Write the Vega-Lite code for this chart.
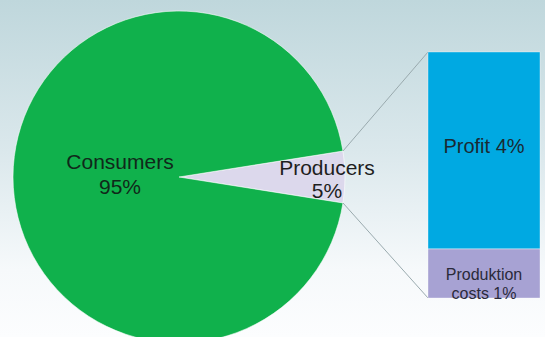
{
  "$schema": "https://vega.github.io/schema/vega-lite/v6.json",
  "width": 545,
  "height": 337,
  "padding": 0,
  "autosize": "none",
  "background": "#ffffff",
  "view": {
    "stroke": null,
    "fill": {
      "gradient": "linear",
      "x1": 0, "y1": 0, "x2": 0, "y2": 1,
      "stops": [
        {"offset": 0, "color": "#bfd7dc"},
        {"offset": 0.45, "color": "#dbe8ec"},
        {"offset": 0.8, "color": "#f6f9fb"},
        {"offset": 1, "color": "#fcfdfe"}
      ]
    }
  },
  "datasets": {
    "pie": [
      {"name": "Producers", "pct": 5, "ord": 1},
      {"name": "Consumers", "pct": 95, "ord": 2}
    ],
    "bar": [
      {"name": "Produktion costs", "pct": 1, "ord": 1},
      {"name": "Profit", "pct": 4, "ord": 2}
    ]
  },
  "layer": [
    {
      "data": {"name": "pie"},
      "transform": [
        {"stack": "pct", "groupby": [], "sort": [{"field": "ord"}], "as": ["t0", "t1"]},
        {"calculate": "(datum.t0 + datum.t1) / 2", "as": "tmid"},
        {"calculate": "[datum.name, datum.pct + '%']", "as": "label"}
      ],
      "layer": [
        {
          "mark": {"type": "arc", "radius": 166, "stroke": "#ffffff", "strokeWidth": 0.8, "strokeOpacity": 0.7},
          "encoding": {
            "x": {"datum": 179, "type": "quantitative", "scale": {"domain": [0, 545], "nice": false, "zero": false}, "axis": null},
            "y": {"datum": 2.4593, "type": "quantitative", "scale": {"domain": [-0.7927, 6.0569], "nice": false, "zero": false}, "axis": null},
            "theta": {"field": "t0", "type": "quantitative", "scale": {"domain": [0, 100], "range": [1.41372, 7.6969]}},
            "theta2": {"field": "t1"},
            "color": {
              "field": "name", "type": "nominal",
              "scale": {"domain": ["Consumers", "Producers", "Profit", "Produktion costs"], "range": ["#10b14c", "#dcd8ec", "#00a9e2", "#a7a2d3"]},
              "legend": null
            }
          }
        },
        {
          "transform": [{"filter": "datum.name == 'Consumers'"}],
          "mark": {"type": "text", "radius": 59, "font": "Liberation Sans", "fontSize": 21, "lineHeight": 25, "align": "center", "baseline": "middle", "color": "#10281a", "dy": -14},
          "encoding": {
            "x": {"datum": 179, "type": "quantitative", "scale": {"domain": [0, 545], "nice": false, "zero": false}, "axis": null},
            "y": {"datum": 2.4593, "type": "quantitative", "scale": {"domain": [-0.7927, 6.0569], "nice": false, "zero": false}, "axis": null},
            "theta": {"field": "tmid", "type": "quantitative", "scale": {"domain": [0, 100], "range": [1.41372, 7.6969]}},
            "text": {"field": "label"}
          }
        },
        {
          "transform": [{"filter": "datum.name == 'Producers'"}],
          "mark": {"type": "text", "radius": 148, "font": "Liberation Sans", "fontSize": 21, "lineHeight": 23, "align": "center", "baseline": "middle", "color": "#1e1e1e", "dy": -8},
          "encoding": {
            "x": {"datum": 179, "type": "quantitative", "scale": {"domain": [0, 545], "nice": false, "zero": false}, "axis": null},
            "y": {"datum": 2.4593, "type": "quantitative", "scale": {"domain": [-0.7927, 6.0569], "nice": false, "zero": false}, "axis": null},
            "theta": {"field": "tmid", "type": "quantitative", "scale": {"domain": [0, 100], "range": [1.41372, 7.6969]}},
            "text": {"field": "label"}
          }
        }
      ]
    },
    {
      "data": {"values": [{}]},
      "mark": {"type": "rule", "color": "#9aaaae", "strokeWidth": 1},
      "encoding": {
        "x": {"datum": 343, "type": "quantitative", "scale": {"domain": [0, 545], "nice": false, "zero": false}, "axis": null},
        "y": {"datum": 2.9878, "type": "quantitative", "scale": {"domain": [-0.7927, 6.0569], "nice": false, "zero": false}, "axis": null},
        "x2": {"datum": 428},
        "y2": {"datum": 5}
      }
    },
    {
      "data": {"values": [{}]},
      "mark": {"type": "rule", "color": "#9aaaae", "strokeWidth": 1},
      "encoding": {
        "x": {"datum": 343, "type": "quantitative", "scale": {"domain": [0, 545], "nice": false, "zero": false}, "axis": null},
        "y": {"datum": 1.9309, "type": "quantitative", "scale": {"domain": [-0.7927, 6.0569], "nice": false, "zero": false}, "axis": null},
        "x2": {"datum": 428},
        "y2": {"datum": 0}
      }
    },
    {
      "data": {"name": "bar"},
      "transform": [
        {"stack": "pct", "groupby": [], "sort": [{"field": "ord"}], "as": ["y0", "y1"]},
        {"calculate": "(datum.y0 + datum.y1) / 2", "as": "ymid"},
        {"calculate": "datum.name == 'Produktion costs' ? ['Produktion', 'costs ' + datum.pct + '%'] : datum.name + ' ' + datum.pct + '%'", "as": "label"}
      ],
      "layer": [
        {
          "mark": {"type": "rect", "stroke": "#ffffff", "strokeWidth": 0.6, "strokeOpacity": 0.6},
          "encoding": {
            "x": {"datum": 428, "type": "quantitative", "scale": {"domain": [0, 545], "nice": false, "zero": false}, "axis": null},
            "x2": {"datum": 540},
            "y": {"field": "y0", "type": "quantitative", "scale": {"domain": [-0.7927, 6.0569], "nice": false, "zero": false}, "axis": null},
            "y2": {"field": "y1"},
            "color": {
              "field": "name", "type": "nominal",
              "scale": {"domain": ["Consumers", "Producers", "Profit", "Produktion costs"], "range": ["#10b14c", "#dcd8ec", "#00a9e2", "#a7a2d3"]},
              "legend": null
            }
          }
        },
        {
          "transform": [{"filter": "datum.name == 'Profit'"}],
          "mark": {"type": "text", "font": "Liberation Sans", "fontSize": 20, "align": "center", "baseline": "middle", "color": "#1a2a33", "dy": -3},
          "encoding": {
            "x": {"datum": 484, "type": "quantitative", "scale": {"domain": [0, 545], "nice": false, "zero": false}, "axis": null},
            "y": {"field": "ymid", "type": "quantitative", "scale": {"domain": [-0.7927, 6.0569], "nice": false, "zero": false}, "axis": null},
            "text": {"field": "label"}
          }
        },
        {
          "transform": [{"filter": "datum.name == 'Produktion costs'"}],
          "mark": {"type": "text", "font": "Liberation Sans", "fontSize": 16, "lineHeight": 19, "align": "center", "baseline": "middle", "color": "#2a2a3a", "dy": 2},
          "encoding": {
            "x": {"datum": 484, "type": "quantitative", "scale": {"domain": [0, 545], "nice": false, "zero": false}, "axis": null},
            "y": {"field": "ymid", "type": "quantitative", "scale": {"domain": [-0.7927, 6.0569], "nice": false, "zero": false}, "axis": null},
            "text": {"field": "label"}
          }
        }
      ]
    }
  ]
}
